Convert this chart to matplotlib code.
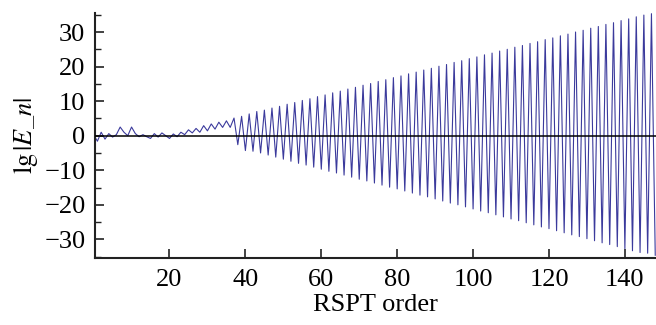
import matplotlib.pyplot as plt
from matplotlib.ticker import MultipleLocator

# ordens 0..36: regime irregular
early = [0.3, -1.6, 1.0, -1.0, 0.6, -0.4, 0.3, 2.5, 1.0, 0.0, 2.5, 0.6, -0.3,
         0.3, -0.3, -0.8, 0.6, -0.4, 0.8, 0.0, -0.8, 0.5, -0.3, 1.0, 0.3,
         1.7, 0.8, 2.1, 1.0, 2.9, 1.4, 3.4, 1.9, 3.9, 2.4, 4.3, 2.4]

# ordens impares 37..147 (picos positivos)
peaks = [5.1, 5.6, 6.3, 7.0, 7.4, 8.0, 8.5, 9.1, 9.6, 10.2, 10.7, 11.3, 11.8,
         12.4, 12.9, 13.5, 14.0, 14.6, 15.1, 15.7, 16.2, 16.8, 17.3, 17.9,
         18.4, 19.0, 19.5, 20.1, 20.6, 21.2, 21.7, 22.3, 22.8, 23.4, 23.9,
         24.5, 25.0, 25.6, 26.1, 26.7, 27.2, 27.8, 28.3, 28.9, 29.4, 30.0,
         30.5, 31.1, 31.6, 32.2, 32.7, 33.3, 33.8, 34.4, 34.9, 35.3]

# ordens pares 38..148 (vales negativos)
troughs = [-2.6, -4.3, -4.5, -5.0, -5.6, -6.2, -6.8, -7.4, -8.0, -8.5, -9.1,
           -9.7, -10.3, -10.8, -11.4, -12.0, -12.6, -13.1, -13.7, -14.3,
           -14.9, -15.4, -16.0, -16.6, -17.2, -17.7, -18.3, -18.9, -19.5,
           -20.0, -20.6, -21.2, -21.8, -22.3, -22.9, -23.5, -24.1, -24.6,
           -25.2, -25.8, -26.4, -26.9, -27.5, -28.1, -28.7, -29.2, -29.8,
           -30.4, -31.0, -31.5, -32.1, -32.7, -33.3, -33.8, -34.0, -34.6]

values = list(early)
for p, t in zip(peaks, troughs):
    values += [p, t]
orders = list(range(len(values)))

plt.rcParams['font.family'] = 'Liberation Serif'
plt.rcParams['mathtext.fontset'] = 'stix'

fig = plt.figure(figsize=(6.56, 3.25), dpi=100)
ax = fig.add_axes([0.145, 0.205, 0.855, 0.755])

ax.plot(orders, values, color='#3b3a9c', lw=0.8)
ax.axhline(0, color='black', lw=1.1, zorder=5)

ax.set_xlim(0.4, 148.2)
ax.set_ylim(-35.5, 35.5)
ax.xaxis.set_major_locator(MultipleLocator(20))
ax.yaxis.set_major_locator(MultipleLocator(10))
ax.yaxis.set_minor_locator(MultipleLocator(5))

for s in ['top', 'right']:
    ax.spines[s].set_visible(False)
for s in ['left', 'bottom']:
    ax.spines[s].set_linewidth(1.5)
    ax.spines[s].set_color('#222222')

ax.tick_params(which='major', direction='in', length=6.5, width=1.2,
               labelsize=19, color='#222222')
ax.tick_params(axis='x', pad=8)
ax.tick_params(axis='y', pad=7)
ax.tick_params(which='minor', direction='in', length=4, width=1.0,
               color='#222222')

ax.set_xlabel('RSPT order', fontsize=19, labelpad=2)
ax.set_ylabel(r'$\mathrm{lg}\,|E\_n|$', fontsize=19, labelpad=3)

fig.savefig('out.png', dpi=100)
